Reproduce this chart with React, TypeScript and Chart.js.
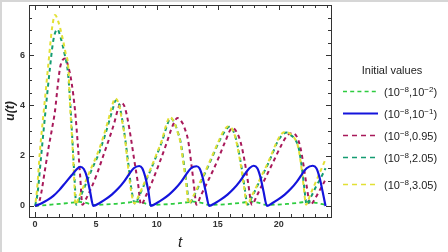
import { useEffect, useRef } from "react";
import { Chart, registerables } from "chart.js";

Chart.register(...registerables);

// ---------- data ----------
const xTickLabels = [0, 5, 10, 15, 20];
const yTickLabels = [0, 2, 4, 6];
const xTitle = "t";
const yTitle = "u(t)";
const legendTitle = "Initial values";
// each label: [base, sup, base, sup, base]
const seriesLabels = [
  ["(10", "−8", ",10", "−2", ")"],
  ["(10", "−8", ",10", "−1", ")"],
  ["(10", "−8", ",0.95)", "", ""],
  ["(10", "−8", ",2.05)", "", ""],
  ["(10", "−8", ",3.05)", "", ""],
];

// (10^-8, 10^-2) green
const greenT = [0, 1, 2, 3, 3.6, 4.2, 4.78, 5.5, 6.5, 7.5, 8.3, 8.9, 9.5, 10.2, 11.2, 12.2, 13.0, 13.7, 14.3, 15.0, 16.0, 17.0, 17.7, 18.4, 19.04, 19.7, 20.7, 21.7, 22.4, 23.1, 23.85];
const greenU = [0, 0.04, 0.08, 0.13, 0.16, 0.12, 0.04, 0.05, 0.08, 0.13, 0.17, 0.12, 0.04, 0.05, 0.08, 0.13, 0.17, 0.12, 0.04, 0.05, 0.08, 0.13, 0.17, 0.12, 0.04, 0.05, 0.08, 0.13, 0.17, 0.12, 0.04];

// (10^-8, 10^-1) blue
const blueT = [0, 0.5, 1.0, 1.5, 2.0, 2.5, 3.0, 3.4, 3.7, 4.0, 4.25, 4.5, 4.78,
  5.3, 5.8, 6.3, 6.8, 7.3, 7.7, 8.1, 8.55, 8.8, 9.05, 9.3, 9.5,
  10.0, 10.5, 11.0, 11.5, 12.0, 12.4, 12.8, 13.25, 13.5, 13.75, 14.0, 14.3,
  14.8, 15.3, 15.8, 16.3, 16.8, 17.2, 17.6, 17.95, 18.25, 18.5, 18.75, 19.04,
  19.5, 20.0, 20.5, 21.0, 21.5, 21.9, 22.3, 22.8, 23.1, 23.35, 23.6, 23.85];
const blueU = [0, 0.1, 0.23, 0.4, 0.64, 0.93, 1.22, 1.45, 1.56, 1.47, 1.16, 0.62, 0,
  0.12, 0.27, 0.45, 0.68, 0.97, 1.25, 1.5, 1.59, 1.5, 1.15, 0.6, 0,
  0.12, 0.27, 0.45, 0.68, 0.97, 1.25, 1.5, 1.58, 1.5, 1.15, 0.6, 0,
  0.12, 0.27, 0.45, 0.68, 0.97, 1.25, 1.5, 1.6, 1.5, 1.15, 0.6, 0,
  0.12, 0.27, 0.45, 0.68, 0.97, 1.25, 1.5, 1.6, 1.5, 1.15, 0.6, 0];

// (10^-8, 0.95) maroon
const maroonT = [0, 0.25, 0.5, 0.8, 1.1, 1.4, 1.64, 1.85, 2.05, 2.25, 2.46, 2.7, 3.0, 3.28, 3.5, 3.7, 3.88,
  4.2, 4.6, 5.1, 5.6, 6.1, 6.5, 6.8, 7.05, 7.35, 7.6, 7.9, 8.15, 8.45, 8.7,
  9.1, 9.6, 10.2, 10.8, 11.3, 11.7, 12.1, 12.35, 12.57, 12.85, 13.05, 13.25,
  13.6, 14.1, 14.6, 15.1, 15.6, 16.2, 16.6, 16.9, 17.2, 17.5, 17.8,
  18.2, 18.7, 19.2, 19.7, 20.2, 20.7, 21.1, 21.5, 21.8, 22.05, 22.3, 22.6,
  23.0, 23.4, 23.8];
const maroonU = [0, 0.05, 0.5, 1.4, 2.3, 3.1, 3.8, 4.75, 5.5, 5.8, 5.87, 5.6, 4.9, 3.8, 2.5, 1.2, 0.05,
  0.3, 0.7, 1.3, 2.0, 2.7, 3.3, 3.85, 4.1, 3.95, 3.45, 2.6, 1.8, 0.9, 0.05,
  0.4, 0.95, 1.7, 2.5, 3.2, 3.5, 3.3, 3.0, 2.6, 1.6, 0.8, 0.05,
  0.4, 0.9, 1.4, 1.95, 2.55, 3.1, 2.9, 2.5, 1.8, 0.9, 0.05,
  0.4, 0.9, 1.4, 1.9, 2.4, 2.8, 2.9, 2.75, 2.3, 1.6, 0.8, 0.05,
  0.3, 0.65, 1.0];

// (10^-8, 2.05) teal
const tealT = [0, 0.2, 0.5, 0.9, 1.2, 1.5, 1.83, 2.1, 2.4, 2.7, 2.9, 3.1, 3.25, 3.38,
  3.7, 4.1, 4.7, 5.2, 5.7, 6.1, 6.4, 6.62, 6.9, 7.15, 7.42, 7.65, 7.9, 8.2,
  8.55, 9.05, 9.55, 10.05, 10.45, 10.8, 11.12, 11.45, 11.75, 11.95, 12.2, 12.45, 12.65,
  13.05, 13.55, 14.05, 14.55, 15.05, 15.55, 15.95, 16.35, 16.65, 16.95, 17.2, 17.45,
  17.85, 18.35, 18.75, 19.15, 19.55, 19.85, 20.25, 20.65, 21.05, 21.35, 21.65, 21.9, 22.1, 22.3,
  22.7, 23.1, 23.5, 23.85];
const tealU = [0, 0.5, 2.0, 4.0, 5.4, 6.6, 7.03, 6.7, 6.1, 5.3, 4.0, 2.3, 1.0, 0.05,
  0.35, 0.8, 1.5, 2.05, 2.75, 3.4, 3.9, 4.2, 4.05, 3.45, 2.6, 1.7, 0.7, 0.1,
  0.4, 0.95, 1.5, 2.1, 2.6, 3.15, 3.5, 3.3, 2.9, 2.55, 1.75, 0.85, 0.08,
  0.4, 0.9, 1.4, 1.95, 2.5, 2.95, 3.15, 2.9, 2.35, 1.55, 0.75, 0.05,
  0.4, 0.9, 1.3, 1.7, 2.15, 2.5, 2.8, 2.92, 2.8, 2.65, 2.3, 1.55, 0.75, 0.05,
  0.4, 0.8, 1.15, 1.5];

// (10^-8, 3.05) yellow
const yellowT = [0, 0.15, 0.4, 0.8, 1.1, 1.4, 1.64, 1.9, 2.2, 2.5, 2.73, 2.87, 3.05, 3.2, 3.32,
  3.6, 4.0, 4.6, 5.1, 5.6, 6.0, 6.3, 6.56, 6.85, 7.1, 7.38, 7.6, 7.85, 8.15,
  8.5, 9.0, 9.5, 10.0, 10.4, 10.75, 11.07, 11.4, 11.7, 11.9, 12.15, 12.4, 12.6,
  13.0, 13.5, 14.0, 14.5, 15.0, 15.5, 15.9, 16.3, 16.6, 16.9, 17.15, 17.4,
  17.8, 18.3, 18.7, 19.1, 19.5, 19.8, 20.2, 20.6, 21.0, 21.3, 21.6, 21.85, 22.05, 22.25,
  22.6, 23.0, 23.4, 23.8];
const yellowU = [0, 0.6, 2.2, 4.2, 5.7, 7.1, 7.6, 7.35, 6.8, 6.1, 5.5, 4.0, 2.6, 1.2, 0.05,
  0.35, 0.8, 1.5, 2.05, 2.75, 3.4, 3.95, 4.28, 4.1, 3.5, 2.7, 1.7, 0.7, 0.1,
  0.4, 0.95, 1.5, 2.1, 2.6, 3.2, 3.54, 3.35, 2.95, 2.6, 1.8, 0.9, 0.08,
  0.4, 0.9, 1.4, 1.95, 2.5, 3.0, 3.17, 2.95, 2.4, 1.6, 0.8, 0.05,
  0.4, 0.9, 1.3, 1.7, 2.15, 2.5, 2.85, 2.95, 2.85, 2.7, 2.35, 1.6, 0.8, 0.05,
  0.45, 0.9, 1.35, 1.8];

const seriesColors = ["#2ecc40", "#1414dc", "#a8195a", "#149c72", "#e2e034"];

const pts = (T: number[], U: number[]) => T.map((t, i) => ({ x: t, y: U[i] }));

const FONT = "'Liberation Sans', Arial, sans-serif";

// ---------- plugin ----------
const framePlugin = {
  id: "frame",
  beforeDraw(chart: any) {
    const ctx = chart.ctx;
    ctx.save();
    ctx.fillStyle = "#d6d6d6";
    ctx.fillRect(0, 0, 2, chart.height);
    ctx.fillRect(0, 0, chart.width, 2);
    ctx.restore();
  },
  afterDraw(chart: any) {
    const ctx = chart.ctx;
    const { left, right, top, bottom } = chart.chartArea;
    const xs = chart.scales.x;
    const ys = chart.scales.y;
    ctx.save();
    ctx.strokeStyle = "#333";
    ctx.lineWidth = 1;
    ctx.strokeRect(Math.round(left) + 0.5, Math.round(top) + 0.5, Math.round(right - left), Math.round(bottom - top));
    ctx.beginPath();
    for (let t = 0; t <= 24; t++) {
      const px = Math.round(xs.getPixelForValue(t)) + 0.5;
      const len = t % 5 === 0 ? 5 : 3;
      ctx.moveTo(px, bottom); ctx.lineTo(px, bottom - len);
      ctx.moveTo(px, top); ctx.lineTo(px, top + len);
    }
    for (let v = 0; v <= 8; v += 0.5) {
      const py = Math.round(ys.getPixelForValue(v)) + 0.5;
      if (py < top + 1) continue;
      const len = v % 2 === 0 ? 5 : 3;
      ctx.moveTo(left, py); ctx.lineTo(left + len, py);
      ctx.moveTo(right, py); ctx.lineTo(right - len, py);
    }
    ctx.stroke();

    ctx.fillStyle = "#333";
    ctx.font = "bold 9px " + FONT;
    ctx.textAlign = "center";
    ctx.textBaseline = "middle";
    xTickLabels.forEach((v) => ctx.fillText(String(v), xs.getPixelForValue(v), bottom + 8));
    ctx.textAlign = "right";
    yTickLabels.forEach((v) => ctx.fillText(String(v), left - 4, ys.getPixelForValue(v)));

    ctx.fillStyle = "#222";
    ctx.font = "italic 15px " + FONT;
    ctx.textAlign = "center";
    ctx.fillText(xTitle, (left + right) / 2, bottom + 26);
    ctx.save();
    ctx.translate(11, (top + bottom) / 2);
    ctx.rotate(-Math.PI / 2);
    ctx.font = "italic bold 12px " + FONT;
    ctx.fillText(yTitle, 0, 0);
    ctx.restore();

    // legend
    ctx.font = "11px " + FONT;
    ctx.textAlign = "center";
    ctx.fillStyle = "#222";
    ctx.fillText(legendTitle, 392, 71);
    const rows = [91, 113, 135, 157, 184];
    const dashes = [[4, 3.2], [], [5, 4], [5, 4], [5, 4]];
    seriesLabels.forEach((parts, i) => {
      const y = rows[i];
      ctx.save();
      ctx.strokeStyle = seriesColors[i];
      ctx.lineWidth = i === 1 ? 2 : 1.6;
      ctx.setLineDash(dashes[i]);
      ctx.beginPath();
      ctx.moveTo(343, y + 0.5);
      ctx.lineTo(378, y + 0.5);
      ctx.stroke();
      ctx.restore();
      let x = 384;
      ctx.textAlign = "left";
      ctx.textBaseline = "alphabetic";
      parts.forEach((p, k) => {
        if (!p) return;
        const sup = k % 2 === 1;
        ctx.font = (sup ? "8px " : "11px ") + FONT;
        ctx.fillText(p, x, sup ? y + 0.5 : y + 4.5);
        x += ctx.measureText(p).width;
      });
      ctx.textBaseline = "middle";
    });
    ctx.restore();
  },
};

export default function App() {
  const ref = useRef<HTMLCanvasElement>(null);
  useEffect(() => {
    document.body.style.margin = "0";
    const base = { pointRadius: 0, fill: false, cubicInterpolationMode: "monotone" as const };
    const chart = new Chart(ref.current!, {
      type: "line",
      data: {
        datasets: [
          { ...base, label: "g", data: pts(greenT, greenU), borderColor: seriesColors[0], borderWidth: 1.8, borderDash: [4, 3.2], order: 4 },
          { ...base, label: "b", data: pts(blueT, blueU), borderColor: seriesColors[1], borderWidth: 2.2, order: 0 },
          { ...base, label: "m", data: pts(maroonT, maroonU), borderColor: seriesColors[2], borderWidth: 2, borderDash: [4, 3.5], order: 3 },
          { ...base, label: "t", data: pts(tealT, tealU), borderColor: seriesColors[3], borderWidth: 2, borderDash: [4, 3.5], order: 2 },
          { ...base, label: "y", data: pts(yellowT, yellowU), borderColor: seriesColors[4], borderWidth: 2, borderDash: [4, 3.5], borderDashOffset: 3.7, order: 1 },
        ],
      },
      options: {
        animation: false,
        responsive: false,
        layout: { padding: { left: 29, right: 117, top: 5, bottom: 35 } },
        plugins: { legend: { display: false }, tooltip: { enabled: false } },
        scales: {
          x: { type: "linear", min: -0.5, max: 24.3, display: false },
          y: { type: "linear", min: -0.44, max: 8.0, display: false },
        },
      },
      plugins: [framePlugin],
    });
    return () => chart.destroy();
  }, []);
  return (
    <div style={{ width: 448, height: 252 }}>
      <canvas ref={ref} width={448} height={252} style={{ display: "block" }} />
    </div>
  );
}
